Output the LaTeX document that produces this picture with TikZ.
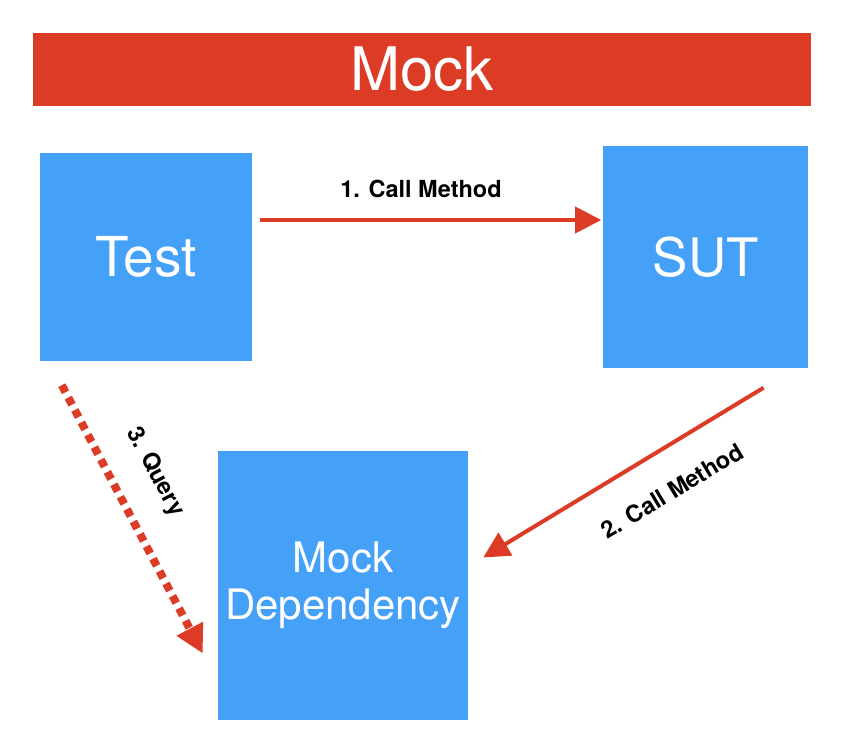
\documentclass[tikz,border=0pt]{standalone}
\usepackage{fontspec}
\setmainfont{TeX Gyre Heros}
\usetikzlibrary{arrows.meta,positioning}
\definecolor{mockred}{RGB}{220,59,37}
\definecolor{boxblue}{RGB}{69,161,248}
\tikzstyle{box} = [rectangle,
                    fill=boxblue,
                    text=white,
                    align=center,
                    inner sep=0pt]
\tikzstyle{call} = [draw=mockred, line width=4pt, -{Triangle[length=26pt,width=26pt]}]
\tikzstyle{query} = [draw=mockred, line width=8pt, dash pattern=on 8pt off 6pt,
                     -{Triangle[length=28pt,width=28pt]}]
\tikzstyle{lbl} = [font=\fontsize{23.5}{28}\selectfont\bfseries]

\begin{document}
\begin{tikzpicture}[x=1pt, y=-1pt]
\useasboundingbox (0,0) rectangle (850,743);
\node (banner) [box, fill=mockred, minimum width=778pt, minimum height=73pt,
  font=\fontsize{60}{72}\selectfont] at (422,69.5) {Mock};
\node (test) [box, minimum width=212pt, minimum height=208pt,
  font=\fontsize{55}{60}\selectfont] at (146,257) {Test};
\node (sut) [box, minimum width=205pt, minimum height=221pt, right=351pt of test,
  font=\fontsize{53}{60}\selectfont] {SUT};
\node (dep) [box, minimum width=250pt, minimum height=269pt,
  font=\fontsize{42}{47}\selectfont] at (343,585) {Mock\\Dependency};
% arrows
\draw [call] ([shift={(8,-37)}]test.east) -- ([shift={(-2,-37)}]sut.west);
\draw [call] ([shift={(-45,20)}]sut.south east) -- ([shift={(15,-27.5)}]dep.east);
\draw [query] ([shift={(22,24)}]test.south west) -- ([shift={(-15,68.5)}]dep.west);
\node (l1) [lbl] at (421,189) {1. Call Method};
\node (l2) [lbl, rotate=31] at (672,491) {2. Call Method};
\node (l3) [lbl, rotate=-62] at (155,472) {3. Query};
\end{tikzpicture}
\end{document}
